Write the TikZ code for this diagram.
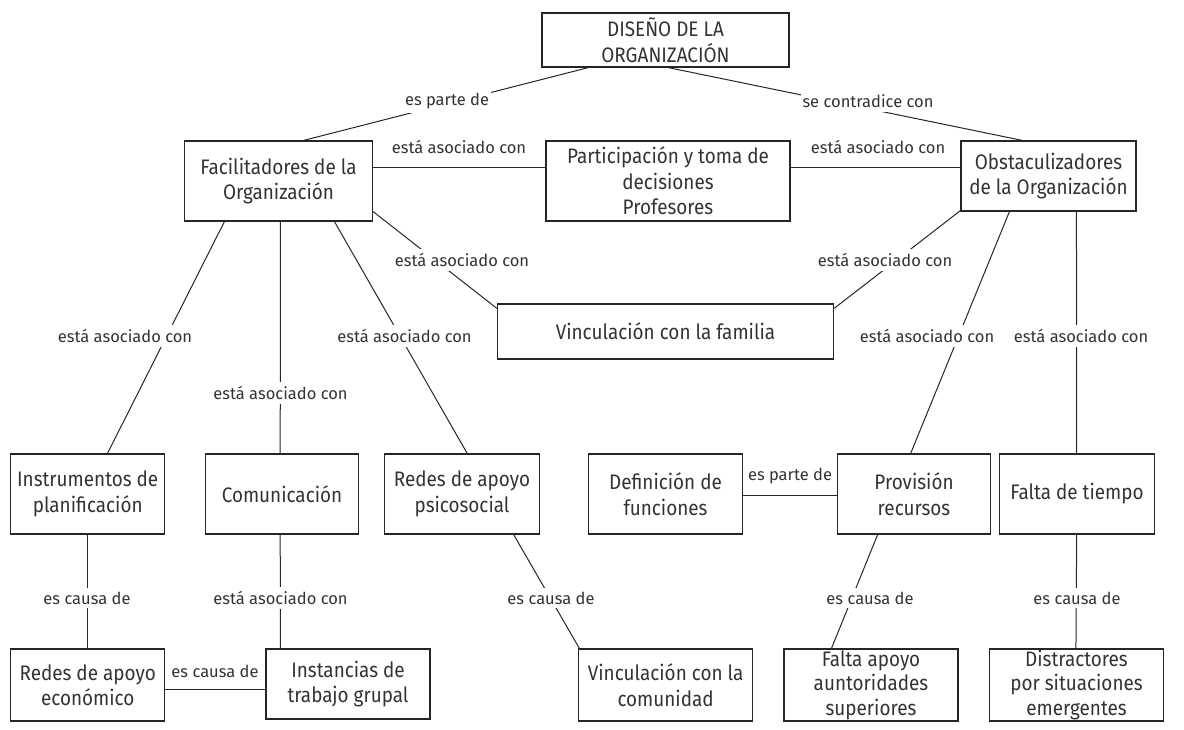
\documentclass[tikz,border=0pt]{standalone}
\usepackage{fontspec}
\setmainfont{Fira Sans}
\newfontfamily\boxfont[FakeStretch=0.9]{Fira Sans}
\usetikzlibrary{calc}
\begin{document}
\begin{tikzpicture}[x=1pt,y=-1pt,
  box/.style={draw=black!85, line width=1.1pt, inner sep=0pt, align=center,
    font=\boxfont\fontsize{21}{25.5}\selectfont, text=black!80},
  lab/.style={font=\fontsize{16.5}{19}\selectfont, text=black!80, inner sep=2pt},
  labw/.style={lab, fill=white, inner ysep=4pt},
  conn/.style={draw=black!85, line width=1pt}]
\useasboundingbox (0,0) rectangle (1184,729);
% boxes
\node[box, minimum width=247pt, minimum height=54pt] (dis) at (665.5,40) {DISEÑO DE LA\\ORGANIZACIÓN};
\node[box, minimum width=188pt, minimum height=80pt] (fac) at (278.5,181) {Facilitadores de la\\Organización};
\node[box, minimum width=244pt, minimum height=80pt] (par) at (668,181) {Participación y toma de\\decisiones\\Profesores};
\node[box, minimum width=175pt, minimum height=70pt] (obs) at (1048.5,176) {Obstaculizadores\\de la Organización};
\node[box, minimum width=336pt, minimum height=55pt] (vfam) at (665.5,331.5) {Vinculación con la familia};
\node[box, minimum width=154pt, minimum height=80pt] (ins) at (87.7,494) {Instrumentos de\\planificación};
\node[box, minimum width=153.5pt, minimum height=80pt] (com) at (282,494) {Comunicación};
\node[box, minimum width=154.5pt, minimum height=80pt] (rps) at (462,494) {Redes de apoyo\\psicosocial};
\node[box, minimum width=154pt, minimum height=80pt] (def) at (665.5,494) {Definición de\\funciones};
\node[box, minimum width=153.6pt, minimum height=80pt] (prov) at (914,494) {Provisión\\recursos};
\node[box, minimum width=154.5pt, minimum height=80pt] (fti) at (1077,494) {Falta de tiempo};
\node[box, minimum width=154pt, minimum height=72pt] (reco) at (87.7,685) {Redes de apoyo\\económico};
\node[box, minimum width=164pt, minimum height=70pt] (inst) at (348,684) {Instancias de\\trabajo grupal};
\node[box, minimum width=174pt, minimum height=72pt] (vcom) at (665.6,685) {Vinculación con la\\comunidad};
\node[box, minimum width=174pt, minimum height=72pt, font=\boxfont\fontsize{21}{24.5}\selectfont] (fap) at (871,685) {Falta apoyo\\auntoridades\\superiores};
\node[box, minimum width=174pt, minimum height=72pt, font=\boxfont\fontsize{21}{24.5}\selectfont] (dist) at (1076.5,685) {Distractores\\por situaciones\\emergentes};
% connectors
\draw[conn] ([xshift=47pt]dis.south west) -- ([xshift=119.5pt]fac.north west);
\draw[conn] ([xshift=126.6pt]dis.south west) -- ([xshift=62pt]obs.north west);
\draw[conn] ([yshift=-27pt]fac.north east) -- ([yshift=-27pt]par.north west);
\draw[conn] ([yshift=-27pt]par.north east) -- ([yshift=-27pt]obs.north west);
\draw[conn] ([yshift=10pt]fac.south east) -- ([yshift=-5pt]vfam.north west);
\draw[conn] ([yshift=1pt]obs.south west) -- ([yshift=-5pt]vfam.north east);
\draw[conn] ([xshift=40.5pt]fac.south west) -- ([xshift=97.3pt]ins.north west);
\draw[conn] ([xshift=96.5pt]fac.south west) -- ([xshift=75.5pt]com.north west);
\draw[conn] ([xshift=150.5pt]fac.south west) -- ([xshift=83pt]rps.north west);
\draw[conn] ([xshift=49pt]obs.south west) -- ([xshift=74pt]prov.north west);
\draw[conn] ([xshift=116pt]obs.south west) -- ([xshift=77.5pt]fti.north west);
\draw[conn] ([xshift=77pt]ins.south west) -- ([xshift=77pt]reco.north west);
\draw[conn] ([xshift=75.5pt]com.south west) -- ([xshift=15pt]inst.north west);
\draw[conn] ([yshift=-41pt]reco.north east) -- ([yshift=-41pt]inst.north west);
\draw[conn] ([xshift=129.4pt]rps.south west) -- ([xshift=1.4pt]vcom.north west);
\draw[conn] ([yshift=-42pt]def.north east) -- ([yshift=-42pt]prov.north west);
\draw[conn] ([xshift=41pt]prov.south west) -- ([xshift=48pt]fap.north west);
\draw[conn] ([xshift=77.5pt]fti.south west) -- ([xshift=87pt]dist.north west);
% labels
\node[labw] (l1) at (447,101) {es parte de};
\node[labw] (l2) at (868,101) {se contradice con};
\node[lab] (l3) at (459,147) {está asociado con};
\node[lab] (l4) at (878,147) {está asociado con};
\node[labw] (l5) at (462,260) {está asociado con};
\node[labw] (l6) at (885,260) {está asociado con};
\node[labw] (l7) at (125,336) {está asociado con};
\node[labw] (l8) at (280.5,393) {está asociado con};
\node[labw] (l9) at (404.5,336) {está asociado con};
\node[labw] (l10) at (927,336) {está asociado con};
\node[labw] (l11) at (1081,336) {está asociado con};
\node[labw] (l12) at (87,598) {es causa de};
\node[labw] (l13) at (280.5,598) {está asociado con};
\node[lab] (l14) at (215,671) {es causa de};
\node[labw] (l15) at (551,598) {es causa de};
\node[lab] (l16) at (790,476) {es parte de};
\node[labw] (l17) at (870,598) {es causa de};
\node[labw] (l18) at (1077,598) {es causa de};
\end{tikzpicture}
\end{document}
